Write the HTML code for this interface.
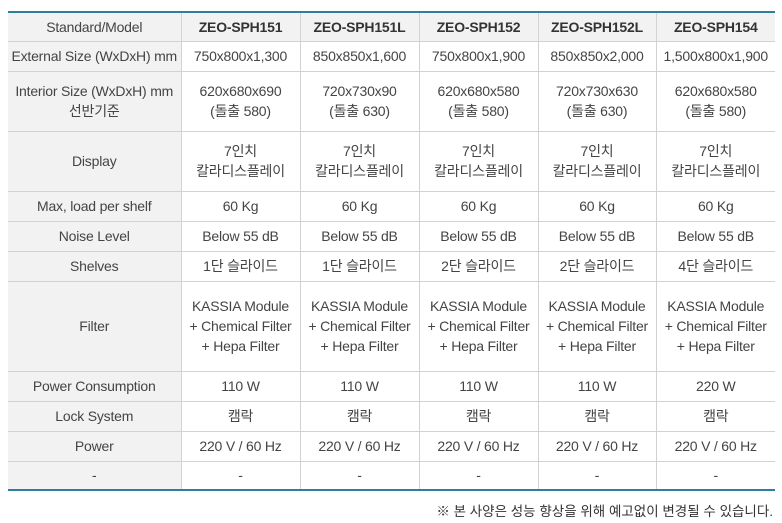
<!DOCTYPE html>
<html><head><meta charset="utf-8"><style>
body{margin:0;background:#fff;width:782px;height:523px;overflow:hidden;font-family:"Liberation Sans","Noto Sans CJK KR",sans-serif;color:#444;}
table{position:absolute;left:8px;top:11px;border-collapse:collapse;width:767px;table-layout:fixed;border-top:2px solid #2f7f9c;border-bottom:2px solid #2f7f9c;}
td{border:1px solid #d2d2d2;text-align:center;font-size:14px;line-height:20px;padding:0;letter-spacing:-0.2px;}
tr>td:first-child{border-left:none;background:#f2f2f2;}
tr>td:last-child{border-right:none;}
tr.h td{background:#f2f2f2;font-weight:bold;color:#333;}
tr.h td:first-child{font-weight:normal;color:#444;}
.note{position:absolute;right:9px;top:500px;font-size:13.5px;color:#333;}
</style></head><body>
<table>
<colgroup><col style="width:173px"><col style="width:119px"><col style="width:119px"><col style="width:119px"><col style="width:118px"><col style="width:119px"></colgroup>
<tr class="h" style="height:29px"><td>Standard/Model</td><td>ZEO-SPH151</td><td>ZEO-SPH151L</td><td>ZEO-SPH152</td><td>ZEO-SPH152L</td><td>ZEO-SPH154</td></tr>
<tr style="height:30px"><td>External Size (WxDxH) mm</td><td>750x800x1,300</td><td>850x850x1,600</td><td>750x800x1,900</td><td>850x850x2,000</td><td>1,500x800x1,900</td></tr>
<tr style="height:60px"><td>Interior Size (WxDxH) mm<br>선반기준</td><td>620x680x690<br>(돌출 580)</td><td>720x730x90<br>(돌출 630)</td><td>620x680x580<br>(돌출 580)</td><td>720x730x630<br>(돌출 630)</td><td>620x680x580<br>(돌출 580)</td></tr>
<tr style="height:60px"><td>Display</td><td>7인치<br>칼라디스플레이</td><td>7인치<br>칼라디스플레이</td><td>7인치<br>칼라디스플레이</td><td>7인치<br>칼라디스플레이</td><td>7인치<br>칼라디스플레이</td></tr>
<tr style="height:30px"><td>Max, load per shelf</td><td>60 Kg</td><td>60 Kg</td><td>60 Kg</td><td>60 Kg</td><td>60 Kg</td></tr>
<tr style="height:30px"><td>Noise Level</td><td>Below 55 dB</td><td>Below 55 dB</td><td>Below 55 dB</td><td>Below 55 dB</td><td>Below 55 dB</td></tr>
<tr style="height:30px"><td>Shelves</td><td>1단 슬라이드</td><td>1단 슬라이드</td><td>2단 슬라이드</td><td>2단 슬라이드</td><td>4단 슬라이드</td></tr>
<tr style="height:90px"><td>Filter</td><td>KASSIA Module<br>+ Chemical Filter<br>+ Hepa Filter</td><td>KASSIA Module<br>+ Chemical Filter<br>+ Hepa Filter</td><td>KASSIA Module<br>+ Chemical Filter<br>+ Hepa Filter</td><td>KASSIA Module<br>+ Chemical Filter<br>+ Hepa Filter</td><td>KASSIA Module<br>+ Chemical Filter<br>+ Hepa Filter</td></tr>
<tr style="height:30px"><td>Power Consumption</td><td>110 W</td><td>110 W</td><td>110 W</td><td>110 W</td><td>220 W</td></tr>
<tr style="height:30px"><td>Lock System</td><td>캠락</td><td>캠락</td><td>캠락</td><td>캠락</td><td>캠락</td></tr>
<tr style="height:30px"><td>Power</td><td>220 V / 60 Hz</td><td>220 V / 60 Hz</td><td>220 V / 60 Hz</td><td>220 V / 60 Hz</td><td>220 V / 60 Hz</td></tr>
<tr style="height:29px"><td>-</td><td>-</td><td>-</td><td>-</td><td>-</td><td>-</td></tr>
</table>
<div class="note">※ 본 사양은 성능 향상을 위해 예고없이 변경될 수 있습니다.</div>
</body></html>
